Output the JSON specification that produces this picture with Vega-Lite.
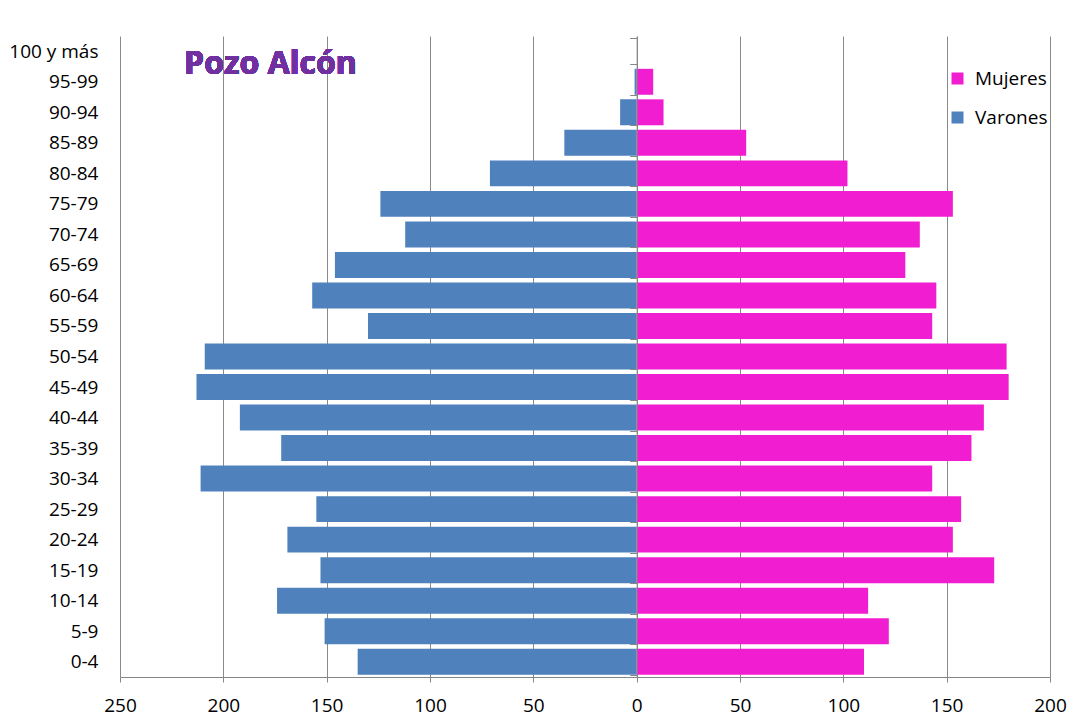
{
  "$schema": "https://vega.github.io/schema/vega-lite/v6.json",
  "width": 930,
  "height": 641,
  "autosize": {"type": "none"},
  "padding": {"left": 120, "top": 36, "right": 29, "bottom": 40},
  "background": "white",
  "config": {"view": {"stroke": null}, "font": "Open Sans"},
  "data": {
    "values": [
      {"edad": "100 y más", "sexo": "Varones", "poblacion": 0},
      {"edad": "100 y más", "sexo": "Mujeres", "poblacion": 0},
      {"edad": "95-99", "sexo": "Varones", "poblacion": -1},
      {"edad": "95-99", "sexo": "Mujeres", "poblacion": 8},
      {"edad": "90-94", "sexo": "Varones", "poblacion": -8},
      {"edad": "90-94", "sexo": "Mujeres", "poblacion": 13},
      {"edad": "85-89", "sexo": "Varones", "poblacion": -35},
      {"edad": "85-89", "sexo": "Mujeres", "poblacion": 53},
      {"edad": "80-84", "sexo": "Varones", "poblacion": -71},
      {"edad": "80-84", "sexo": "Mujeres", "poblacion": 102},
      {"edad": "75-79", "sexo": "Varones", "poblacion": -124},
      {"edad": "75-79", "sexo": "Mujeres", "poblacion": 153},
      {"edad": "70-74", "sexo": "Varones", "poblacion": -112},
      {"edad": "70-74", "sexo": "Mujeres", "poblacion": 137},
      {"edad": "65-69", "sexo": "Varones", "poblacion": -146},
      {"edad": "65-69", "sexo": "Mujeres", "poblacion": 130},
      {"edad": "60-64", "sexo": "Varones", "poblacion": -157},
      {"edad": "60-64", "sexo": "Mujeres", "poblacion": 145},
      {"edad": "55-59", "sexo": "Varones", "poblacion": -130},
      {"edad": "55-59", "sexo": "Mujeres", "poblacion": 143},
      {"edad": "50-54", "sexo": "Varones", "poblacion": -209},
      {"edad": "50-54", "sexo": "Mujeres", "poblacion": 179},
      {"edad": "45-49", "sexo": "Varones", "poblacion": -213},
      {"edad": "45-49", "sexo": "Mujeres", "poblacion": 180},
      {"edad": "40-44", "sexo": "Varones", "poblacion": -192},
      {"edad": "40-44", "sexo": "Mujeres", "poblacion": 168},
      {"edad": "35-39", "sexo": "Varones", "poblacion": -172},
      {"edad": "35-39", "sexo": "Mujeres", "poblacion": 162},
      {"edad": "30-34", "sexo": "Varones", "poblacion": -211},
      {"edad": "30-34", "sexo": "Mujeres", "poblacion": 143},
      {"edad": "25-29", "sexo": "Varones", "poblacion": -155},
      {"edad": "25-29", "sexo": "Mujeres", "poblacion": 157},
      {"edad": "20-24", "sexo": "Varones", "poblacion": -169},
      {"edad": "20-24", "sexo": "Mujeres", "poblacion": 153},
      {"edad": "15-19", "sexo": "Varones", "poblacion": -153},
      {"edad": "15-19", "sexo": "Mujeres", "poblacion": 173},
      {"edad": "10-14", "sexo": "Varones", "poblacion": -174},
      {"edad": "10-14", "sexo": "Mujeres", "poblacion": 112},
      {"edad": "5-9", "sexo": "Varones", "poblacion": -151},
      {"edad": "5-9", "sexo": "Mujeres", "poblacion": 122},
      {"edad": "0-4", "sexo": "Varones", "poblacion": -135},
      {"edad": "0-4", "sexo": "Mujeres", "poblacion": 110}
    ]
  },
  "layer": [
    {
      "mark": {"type": "bar"},
      "encoding": {
        "y": {
          "field": "edad",
          "type": "nominal",
          "sort": ["100 y más", "95-99", "90-94", "85-89", "80-84", "75-79", "70-74", "65-69", "60-64", "55-59", "50-54", "45-49", "40-44", "35-39", "30-34", "25-29", "20-24", "15-19", "10-14", "5-9", "0-4"],
          "scale": {"paddingInner": 0.15, "paddingOuter": 0.075},
          "axis": {
            "title": null,
            "orient": "left",
            "offset": -516.67,
            "domain": true,
            "domainColor": "#868686",
            "domainWidth": 1,
            "ticks": true,
            "tickBand": "extent",
            "tickSize": 7,
            "tickColor": "#868686",
            "labelPadding": 531.7,
            "labelFontSize": 19,
            "labelFont": "Open Sans",
            "labelColor": "#000000",
            "labelAlign": "right",
            "labelLimit": 300,
            "grid": false,
            "zindex": 1
          }
        },
        "x": {
          "field": "poblacion",
          "type": "quantitative",
          "scale": {"domain": [-250, 200], "nice": false, "zero": false},
          "axis": {
            "title": null,
            "values": [-250, -200, -150, -100, -50, 0, 50, 100, 150, 200],
            "labelExpr": "abs(datum.value)",
            "grid": true,
            "gridColor": "#8a8a8a",
            "gridWidth": 1,
            "domainColor": "#868686",
            "tickColor": "#868686",
            "tickSize": 5,
            "labelPadding": 14,
            "labelFontSize": 19,
            "labelFont": "Open Sans",
            "labelColor": "#000000",
            "labelFlush": false,
            "labelOverlap": false,
            "zindex": 0
          }
        },
        "color": {
          "field": "sexo",
          "type": "nominal",
          "scale": {"domain": ["Mujeres", "Varones"], "range": ["#F01ED0", "#4F81BD"]},
          "legend": {
            "orient": "none",
            "legendX": 828,
            "legendY": 33,
            "title": null,
            "padding": 0,
            "symbolType": "square",
            "symbolSize": 144,
            "symbolStrokeWidth": 0,
            "labelFontSize": 19,
            "labelFont": "Open Sans",
            "labelColor": "#000000",
            "labelOffset": 8,
            "rowPadding": 19
          }
        }
      }
    },
    {
      "mark": {
        "type": "text",
        "text": "Pozo Alcón",
        "align": "left",
        "baseline": "middle",
        "font": "Open Sans",
        "fontSize": 32,
        "fontWeight": "bold",
        "fill": "#7030A0",
        "strokeWidth": 0
      },
      "encoding": {
        "x": {"datum": -219, "type": "quantitative"},
        "y": {"datum": "100 y más", "type": "nominal", "bandPosition": 1}
      }
    }
  ]
}
